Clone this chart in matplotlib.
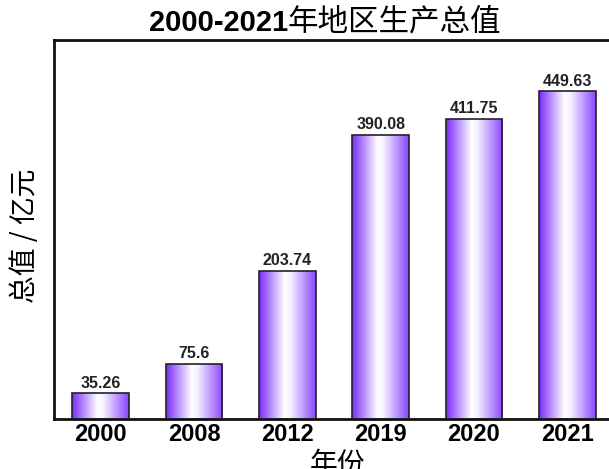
import numpy as np
import matplotlib.pyplot as plt
from matplotlib.colors import LinearSegmentedColormap

years = ['2000', '2008', '2012', '2019', '2020', '2021']
values = [35.26, 75.6, 203.74, 390.08, 411.75, 449.63]

title_num = '2000-2021'
title_cn = '年地区生产总值'
xlabel = '年份'
ylabel = '总值 / 亿元'

cmap = LinearSegmentedColormap.from_list(
    'bar_grad', [(0.0, '#7a2bff'), (0.45, '#ffffff'), (0.55, '#f6f2ff'), (1.0, '#8a45ff')])

fig = plt.figure(figsize=(6.09, 4.69), dpi=100)
ax = fig.add_axes([54 / 609, 1 - 419 / 469, (614 - 54) / 609, (419 - 40) / 469])

x = np.arange(len(years))
bars = ax.bar(x, values, width=0.61, color='none', edgecolor='#222222', linewidth=1.2, zorder=3)
grad = np.linspace(0, 1, 256).reshape(1, -1)
for b in bars:
    bx, by = b.get_x(), b.get_y()
    im = ax.imshow(grad, cmap=cmap, aspect='auto', zorder=2,
                   extent=[bx, bx + b.get_width(), by, by + b.get_height()])
    im.set_clip_path(b)

for xi, v in zip(x, values):
    ax.annotate(f'{v:g}', (xi, v), xytext=(0, 2), textcoords='offset points',
                ha='center', va='bottom', fontsize=11.5, fontweight='bold',
                family='Liberation Sans', color='#222222')

ax.set_xlim(-0.5, len(years) - 0.5)
ax.set_ylim(0, 520)
ax.set_yticks([])
ax.set_xticks(x)
ax.set_xticklabels(years, fontsize=17, fontweight='bold', family='Liberation Sans')
ax.tick_params(axis='x', length=0, pad=3)
for s in ax.spines.values():
    s.set_linewidth(2)
    s.set_color('#111111')

fig.text(288 / 609, 1 - 23 / 469, title_num, ha='right', va='center',
         fontsize=21, fontweight='bold', family='Liberation Sans')
fig.text(288 / 609, 1 - 22 / 469, title_cn, ha='left', va='center',
         fontsize=22, fontweight='light', family='Noto Sans CJK SC')
fig.text(337 / 609, 1 - 464 / 469, xlabel, ha='center', va='center',
         fontsize=20, fontweight='light', family='Noto Sans CJK SC')
fig.text(25 / 609, 1 - 236 / 469, ylabel, ha='center', va='center', rotation=90,
         fontsize=20, fontweight='light', family='Noto Sans CJK SC')

fig.savefig('out.png', dpi=100)
